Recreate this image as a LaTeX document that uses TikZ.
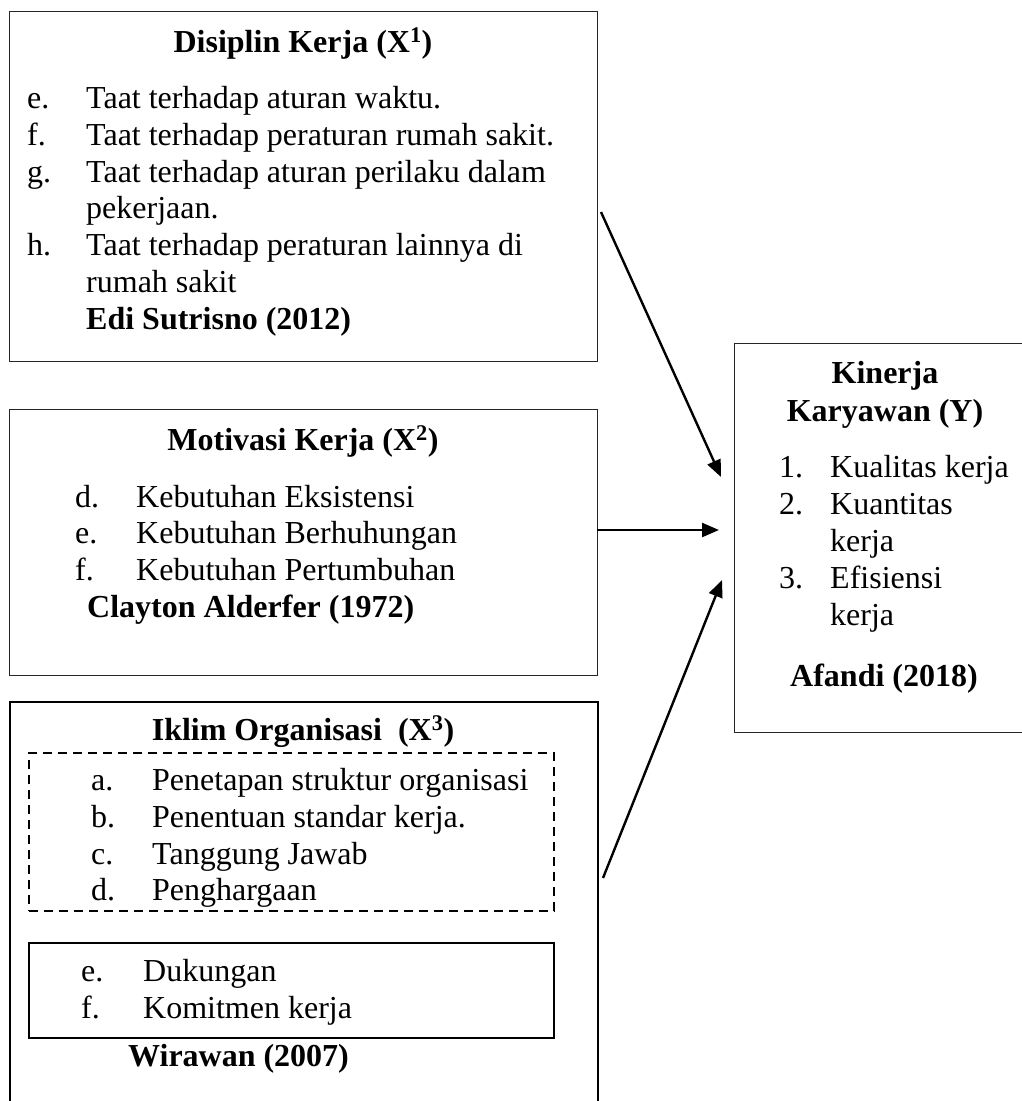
\documentclass[tikz,border=0pt]{standalone}
\usepackage{fontspec}
\setmainfont{Liberation Serif}
\usetikzlibrary{arrows.meta}
\begin{document}
\begin{tikzpicture}[x=1pt,y=-1pt,
  txt/.style={anchor=base west, inner sep=0pt, font=\fontsize{32}{36.8}\selectfont},
  ttl/.style={anchor=base, inner sep=0pt, font=\fontsize{32}{36.8}\selectfont\bfseries},
  bld/.style={anchor=base west, inner sep=0pt, font=\fontsize{32}{36.8}\selectfont\bfseries},
  thinbox/.style={draw=black!85, line width=1.3pt, anchor=north west, inner sep=0pt},
  thickbox/.style={draw=black, line width=2.4pt, anchor=north west, inner sep=0pt},
  dashbox/.style={draw=black, line width=2.2pt, dash pattern=on 9pt off 6pt, anchor=north west, inner sep=0pt},
  arr/.style={line width=2.4pt, -{Triangle[length=17pt,width=14pt]}}]
\useasboundingbox (0,0) rectangle (1022,1101);
\fill[white] (0,0) rectangle (1022,1101);
\clip (0,0) rectangle (1022,1101);

% Box 1
\node[thinbox, minimum width=588pt, minimum height=350pt] (b1) at (9,11) {};
\node[ttl] (b1t) at (303,52) {Disiplin Kerja (X\textsuperscript{1})};
\node[txt] (b1la) at (27,108) {e.};
\node[txt] (b1a) at (86,108) {Taat terhadap aturan waktu.};
\node[txt] (b1lb) at (27,145) {f.};
\node[txt] (b1b) at (86,145) {Taat terhadap peraturan rumah sakit.};
\node[txt] (b1lc) at (27,182) {g.};
\node[txt] (b1c) at (86,182) {Taat terhadap aturan perilaku dalam};
\node[txt] (b1c2) at (86,218) {pekerjaan.};
\node[txt] (b1ld) at (27,255) {h.};
\node[txt] (b1d) at (86,255) {Taat terhadap peraturan lainnya di};
\node[txt] (b1d2) at (86,292) {rumah sakit};
\node[bld] (b1s) at (86,329) {Edi Sutrisno (2012)};

% Box 2
\node[thinbox, minimum width=588pt, minimum height=266pt] (b2) at (9,409) {};
\node[ttl] (b2t) at (303,450) {Motivasi Kerja (X\textsuperscript{2})};
\node[txt] (b2la) at (75,507) {d.};
\node[txt] (b2a) at (136,507) {Kebutuhan Eksistensi};
\node[txt] (b2lb) at (75,543) {e.};
\node[txt] (b2b) at (136,543) {Kebutuhan Berhuhungan};
\node[txt] (b2lc) at (75,580) {f.};
\node[txt] (b2c) at (136,580) {Kebutuhan Pertumbuhan};
\node[bld] (b2s) at (87,617) {Clayton Alderfer (1972)};

% Box 3
\node[thickbox, minimum width=588pt, minimum height=430pt] (b3) at (9,701) {};
\node[ttl] (b3t) at (303,740) {Iklim Organisasi\ \ (X\textsuperscript{3})};
\node[dashbox, minimum width=525pt, minimum height=158pt] (b3d) at (28,752) {};
\node[txt] (b3la) at (91,790) {a.};
\node[txt] (b3a) at (152,790) {Penetapan struktur organisasi};
\node[txt] (b3lb) at (91,827) {b.};
\node[txt] (b3b) at (152,827) {Penentuan standar kerja.};
\node[txt] (b3lc) at (91,864) {c.};
\node[txt] (b3c) at (152,864) {Tanggung Jawab};
\node[txt] (b3ld) at (91,900) {d.};
\node[txt] (b3d1) at (152,900) {Penghargaan};
\node[thickbox, minimum width=525pt, minimum height=95pt] (b3s) at (28,942) {};
\node[txt] (b3le) at (81,981) {e.};
\node[txt] (b3e) at (143,981) {Dukungan};
\node[txt] (b3lf) at (81,1018) {f.};
\node[txt] (b3f) at (143,1018) {Komitmen kerja};
\node[bld] (b3src) at (128,1066) {Wirawan (2007)};

% Kinerja box
\node[thinbox, minimum width=300pt, minimum height=389pt] (by) at (734,343) {};
\node[ttl] (byt1) at (885,383) {Kinerja};
\node[ttl] (byt2) at (885,421) {Karyawan (Y)};
\node[txt] (byl1) at (779,477) {1.};
\node[txt] (by1) at (830,477) {Kualitas kerja};
\node[txt] (byl2) at (779,514) {2.};
\node[txt] (by2) at (830,514) {Kuantitas};
\node[txt] (by2b) at (830,551) {kerja};
\node[txt] (byl3) at (779,588) {3.};
\node[txt] (by3) at (830,588) {Efisiensi};
\node[txt] (by3b) at (830,625) {kerja};
\node[bld] (bys) at (790,686) {Afandi (2018)};

% Arrows
\coordinate (a1s) at (601,212);
\coordinate (a1e) at (721,477);
\coordinate (a2s) at (597,530);
\coordinate (a2e) at (719,530);
\coordinate (a3s) at (603,878);
\coordinate (a3e) at (722,580);
\draw[arr] (a1s) -- (a1e);
\draw[arr] (a2s) -- (a2e);
\draw[arr] (a3s) -- (a3e);
\end{tikzpicture}
\end{document}
